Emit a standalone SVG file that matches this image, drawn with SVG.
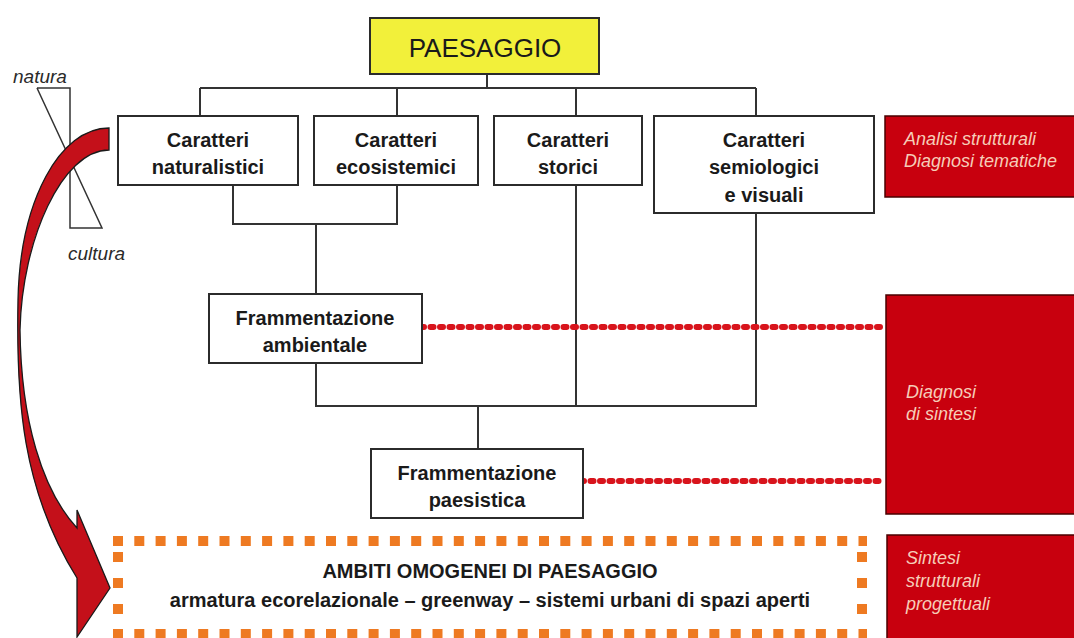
<svg xmlns="http://www.w3.org/2000/svg" width="1074" height="638" viewBox="0 0 1074 638">
<style>
.box{fill:#ffffff;stroke:#2b2b2b;stroke-width:2}
.red{fill:#c8000e;stroke:#4a0000;stroke-width:1.5}
.ln{stroke:#333;stroke-width:2;fill:none}
.dot{stroke:#d8141c;stroke-width:6;stroke-linecap:round;stroke-dasharray:3 6.5;fill:none}
.or{stroke:#ee7a22;stroke-width:10;fill:none}
.t{font-family:"Liberation Sans",Arial,sans-serif;font-weight:bold;font-size:20px;fill:#1a1a1a;text-anchor:middle}
.rt{font-family:"Liberation Sans",Arial,sans-serif;font-style:italic;font-size:18px;fill:#f6cdb8}
.it{font-family:"Liberation Sans",Arial,sans-serif;font-style:italic;font-size:19px;fill:#2a2a2a}
</style>
<rect width="1074" height="638" fill="#ffffff"/>
<g id="connectors">
<path class="ln" d="M487,74V88M200,88H756M200,88V116M397,88V116M576,88V116M756,88V116"/>
<path class="ln" d="M233,185V224H397V185M316,224V294"/>
<path class="ln" d="M316,363V406H756V213M576,185V406M478,406V449"/>
<path class="dot" d="M421,327H882"/>
<path class="dot" d="M581,481H882"/>
</g>
<g id="natura-cultura">
<path class="ln" style="stroke-width:1.5" d="M37,88H70V228H102L37,88"/>
<text class="it" x="13" y="83">natura</text>
<text class="it" x="68" y="260">cultura</text>
</g>
<g id="arrow">
<path fill="#c4101a" stroke="#1a1a1a" stroke-width="1.3" d="M109,128 C60,128 20,200 18,300 C16,400 22,490 77,578 L77,637 L110,588 L77,510 L77,528 C42,490 21,420 20,330 C22,240 62,150 109,150 Z"/>
</g>
<g id="paesaggio">
<rect x="370" y="18" width="229" height="56" fill="#f2f03a" stroke="#2b2b2b" stroke-width="2"/>
<text x="485" y="57" font-family="Liberation Sans, Arial, sans-serif" font-size="26" fill="#1a1a1a" text-anchor="middle">PAESAGGIO</text>
</g>
<g id="naturalistici">
<rect class="box" x="118" y="116" width="180" height="69"/>
<text class="t" x="208" y="147">Caratteri</text>
<text class="t" x="208" y="174">naturalistici</text>
</g>
<g id="ecosistemici">
<rect class="box" x="314" y="116" width="164" height="69"/>
<text class="t" x="396" y="147">Caratteri</text>
<text class="t" x="396" y="174">ecosistemici</text>
</g>
<g id="storici">
<rect class="box" x="494" y="116" width="148" height="69"/>
<text class="t" x="568" y="147">Caratteri</text>
<text class="t" x="568" y="174">storici</text>
</g>
<g id="semiologici">
<rect class="box" x="654" y="116" width="220" height="97"/>
<text class="t" x="764" y="147">Caratteri</text>
<text class="t" x="764" y="174">semiologici</text>
<text class="t" x="764" y="202">e visuali</text>
</g>
<g id="ambientale">
<rect class="box" x="209" y="294" width="213" height="69"/>
<text class="t" x="315" y="325">Frammentazione</text>
<text class="t" x="315" y="352">ambientale</text>
</g>
<g id="paesistica">
<rect class="box" x="371" y="449" width="212" height="69"/>
<text class="t" x="477" y="480">Frammentazione</text>
<text class="t" x="477" y="507">paesistica</text>
</g>
<g id="ambiti">
<path class="or" style="stroke-dasharray:10 11.3" d="M113,541H867"/>
<path class="or" style="stroke-dasharray:10 11.3" d="M113,634H867"/>
<path class="or" style="stroke-dasharray:10 16" d="M118,552V630"/>
<path class="or" style="stroke-dasharray:10 16" d="M862,552V630"/>
<text class="t" x="490" y="578">AMBITI OMOGENEI DI PAESAGGIO</text>
<text class="t" x="490" y="607">armatura ecorelazionale – greenway – sistemi urbani di spazi aperti</text>
</g>
<g id="analisi">
<rect class="red" x="885" y="116" width="195" height="81"/>
<text class="rt" x="904" y="145">Analisi strutturali</text>
<text class="rt" x="904" y="167">Diagnosi tematiche</text>
</g>
<g id="diagnosi">
<rect class="red" x="886" y="295" width="194" height="219"/>
<text class="rt" x="906" y="398">Diagnosi</text>
<text class="rt" x="906" y="420">di sintesi</text>
</g>
<g id="sintesi">
<rect class="red" x="887" y="535" width="193" height="110"/>
<text class="rt" x="906" y="564">Sintesi</text>
<text class="rt" x="906" y="587">strutturali</text>
<text class="rt" x="906" y="610">progettuali</text>
</g>
</svg>
